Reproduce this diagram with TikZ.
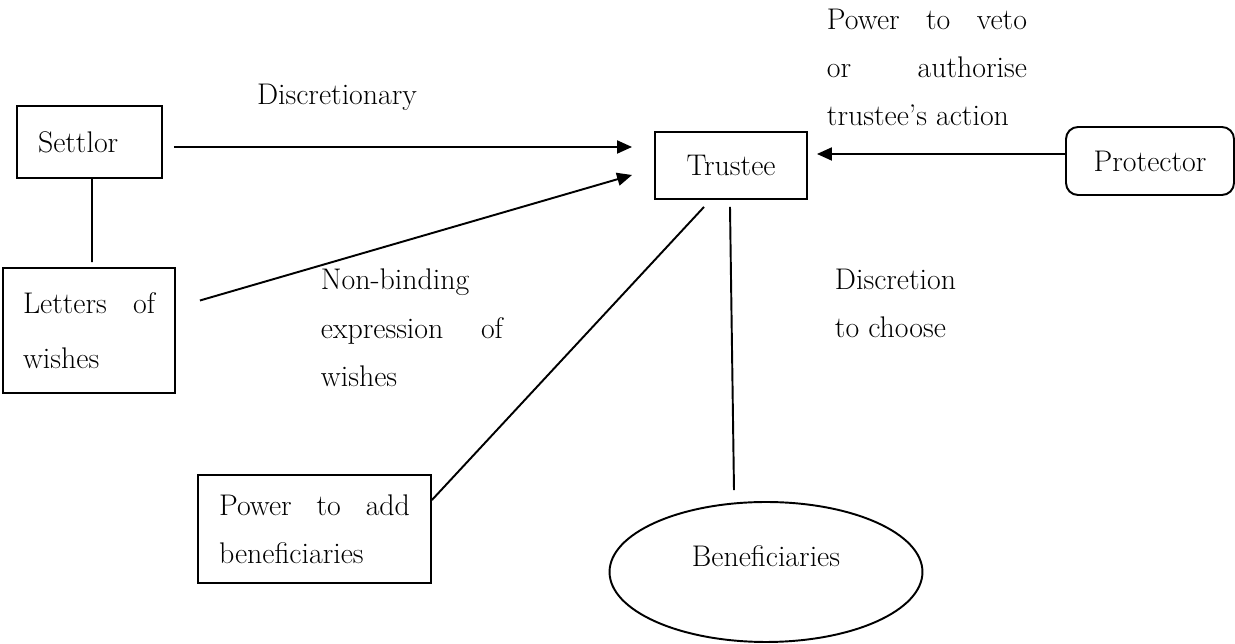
\documentclass[tikz,border=0pt]{standalone}
\usetikzlibrary{arrows.meta,shapes.geometric,calc}
% one drawing unit = 0.02cm
\newlength\pu
\setlength\pu{0.02cm}
% a line whose word spaces stretch to a fixed width (justified line);
% the space settings are reset because ragged alignment fixes them
\newcommand\jline[2]{\makebox[#1\pu][s]{\spaceskip=0pt\relax\xspaceskip=0pt\relax #2}}

\begin{document}
\begin{tikzpicture}[x=0.02cm, y=-0.02cm, line width=1.1pt,
  every node/.style={font=\fontsize{17}{27.5}\selectfont},
  box/.style={draw, rectangle, inner ysep=0pt, align=left},
  lbl/.style={inner sep=0pt, align=left, anchor=north west},
  arr/.style={-{Triangle[length=0.3cm,width=0.26cm]}},
]
\useasboundingbox (0,0) rectangle (1235,644);

% parties
\node[box, minimum width=2.9cm, minimum height=1.44cm, inner xsep=0.42cm, text width=2.06cm]
  (settlor) at (89.5,142) {Settlor};
\node[box, minimum width=3.44cm, minimum height=2.5cm, inner xsep=0.4cm, text width=2.64cm]
  (letters) at (89,330.5) {\jline{132}{Letters of}\\[4pt] wishes};
\node[box, minimum width=4.66cm, minimum height=2.16cm, inner xsep=0.42cm, text width=3.82cm]
  (power) at (314.5,529) {\jline{191}{Power to add}\\ beneficiaries};
\node[draw, rectangle, minimum width=3.04cm, minimum height=1.34cm]
  (trustee) at (731,165.5) {Trustee};
\node[draw, rectangle, rounded corners=0.24cm, minimum width=3.36cm, minimum height=1.36cm]
  (protector) at (1150,161) {Protector};
\node[draw, ellipse, inner sep=0pt, minimum width=6.26cm, minimum height=2.8cm,
  text height=12pt, text depth=18pt]
  (benef) at (766,572) {Beneficiaries};

% relationship labels
\node[anchor=base, inner sep=0pt] (disc) at (337,105) {Discretionary};
\node[lbl] (veto) at (826,8)
  {\jline{200}{Power to veto}\\ \jline{200}{or authorise}\\ trustee's action};
\node[lbl] (nonbind) at (320,268)
  {Non-binding\\ \jline{182}{expression of}\\ wishes};
\node[lbl] (discr) at (834,268) {Discretion\\ to choose};

% connectors
\draw[arr] ($(settlor.east)+(11,5)$) -- ($(trustee.west)+(-22,-18.5)$);
\draw[arr] ($(letters.east)+(24,-30)$) -- ($(trustee.west)+(-22,9.5)$);
\draw ($(settlor.south)+(2.5,0)$) -- ($(letters.north)+(3,-5)$);
\draw[arr] ($(protector.west)+(0,-7)$) -- ($(trustee.east)+(9,-11.5)$);
\draw ($(power.east)+(0,-29)$) -- ($(trustee.south)+(-27,7)$);
\draw ($(trustee.south)+(-1,7)$) -- ($(benef.north)+(-32,-11)$);
\end{tikzpicture}
\end{document}
